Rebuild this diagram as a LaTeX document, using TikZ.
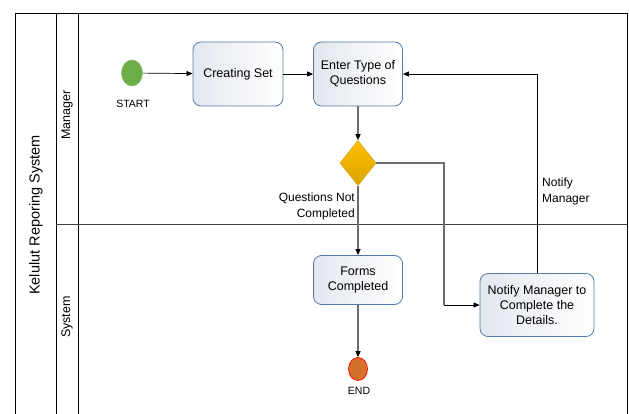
\documentclass[tikz,border=0pt]{standalone}
\usepackage{fontspec}
\setmainfont{Liberation Sans}
\usetikzlibrary{shapes.geometric,arrows.meta}
\definecolor{boxborder}{HTML}{4F7CAA}
\definecolor{boxshade}{HTML}{E3E7EE}
\definecolor{startgreen}{HTML}{6CAD46}
\definecolor{endorange}{HTML}{D4722B}
\definecolor{gold}{HTML}{FFC000}
\definecolor{golddark}{HTML}{D9A200}
\definecolor{flowgrey}{HTML}{6B6B6B}
\tikzset{
  task/.style={draw=boxborder, line width=0.8pt, rounded corners=8pt,
    left color=boxshade, right color=white, align=center,
    font=\fontsize{12.5}{15}\selectfont, inner sep=2pt},
  lane/.style={line width=0.8pt, draw=black},
  thinflow/.style={draw=black, line width=0.7pt, -{Triangle[length=6pt,width=5pt]}},
  greyflow/.style={draw=flowgrey, line width=1.3pt, -{Triangle[length=6pt,width=5pt,fill=black,color=black]}},
  evlabel/.style={font=\fontsize{10.5}{12}\selectfont},
  edgelabel/.style={font=\fontsize{12}{16}\selectfont, align=left, inner sep=0pt},
}
\begin{document}
\begin{tikzpicture}[x=1pt,y=-1pt]
\useasboundingbox (0,0) rectangle (629,414);
% pool and lanes
\draw[lane] (15,414) -- (15,13) -- (627,13) -- (627,414);
\draw[lane] (56,13) -- (56,414);
\draw[lane] (78,13) -- (78,414);
\draw[lane, draw=black!75] (56,224) -- (627,224);
\node[rotate=90, font=\fontsize{14.5}{16}\selectfont] (pool) at (36,215) {Kelulut Reporing System};
\node[rotate=90, font=\fontsize{12.5}{14}\selectfont] (lanemgr) at (67,115) {Manager};
\node[rotate=90, font=\fontsize{12.5}{14}\selectfont] (lanesys) at (67,317) {System};
% events and tasks
\node[ellipse, fill=startgreen, draw=startgreen!80!white, line width=0.6pt, minimum width=21pt, minimum height=26pt, inner sep=0pt] (start) at (132,73) {};
\node[evlabel] (startlbl) at (133,104) {START};
\node[task, minimum width=90pt, minimum height=64pt] (create) at (238,74) {Creating Set};
\node[task, minimum width=89pt, minimum height=64pt] (enter) at (358,74) {Enter Type of\\Questions};
\node[diamond, top color=gold, bottom color=golddark, draw=golddark, line width=0.6pt, minimum width=36pt, minimum height=45pt, inner sep=0pt] (dia) at (358,163) {};
\node[task, minimum width=89pt, minimum height=49pt] (forms) at (358,280) {Forms\\Completed};
\node[task, minimum width=114pt, minimum height=63pt] (notify) at (537,305) {Notify Manager to\\Complete the\\Details.};
\node[ellipse, fill=endorange, draw=red, line width=0.7pt, minimum width=19pt, minimum height=23pt, inner sep=0pt] (end) at (358,369) {};
\node[evlabel] (endlbl) at (359,391) {END};
% connectors
\coordinate (c1) at (444,163);
\coordinate (c2) at (444,305);
\coordinate (c3) at (537,74);
\draw[thinflow] (start) -- (create);
\draw[thinflow] (create) -- (enter);
\draw[greyflow] (enter) -- (dia);
\draw[greyflow] (dia) -- (forms);
\node[edgelabel, align=right, anchor=east] (qnc) at (355,206) {Questions Not\\Completed};
\draw[draw=flowgrey, line width=1.1pt] (dia.east) -- (c1) -- (c2);
\draw[thinflow] (c2) -- (notify.west);
\draw[draw=black, line width=0.7pt] (notify.north) -- (c3);
\draw[thinflow] (c3) -- (enter.east);
\node[edgelabel, anchor=west] (nm) at (542,191) {Notify\\Manager};
\draw[greyflow] (forms) -- (end);
\end{tikzpicture}
\end{document}
